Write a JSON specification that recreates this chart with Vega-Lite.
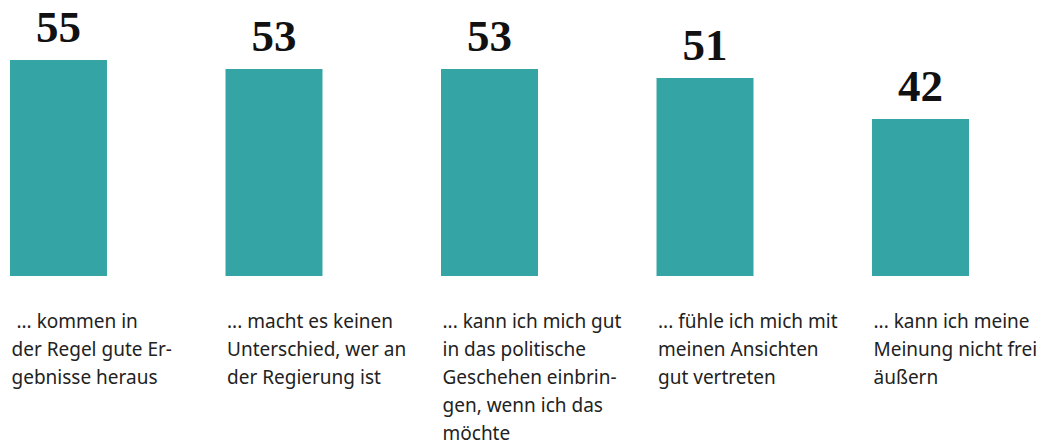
{
  "$schema": "https://vega.github.io/schema/vega-lite/v6.json",
  "width": 959,
  "height": 276,
  "autosize": {"type": "none"},
  "padding": {"left": 10, "top": 0, "right": 78, "bottom": 169},
  "background": "white",
  "config": {"view": {"stroke": null}},
  "data": {
    "values": [
      {"item": "\u200b\u00a0... kommen in|der Regel gute Er-|gebnisse heraus", "value": 55},
      {"item": "... macht es keinen|Unterschied, wer an|der Regierung ist", "value": 53},
      {"item": "... kann ich mich gut|in das politische|Geschehen einbrin-|gen, wenn ich das|möchte", "value": 53},
      {"item": "... fühle ich mich mit|meinen Ansichten|gut vertreten", "value": 51},
      {"item": "... kann ich meine|Meinung nicht frei|äußern", "value": 42}
    ]
  },
  "encoding": {
    "x": {
      "field": "item",
      "type": "nominal",
      "sort": null,
      "scale": {"paddingInner": 0.55, "paddingOuter": 0},
      "axis": {
        "title": null,
        "domain": false,
        "ticks": false,
        "labelAngle": 0,
        "labelAlign": "left",
        "labelBaseline": "top",
        "labelOffset": -47,
        "labelPadding": 36,
        "labelLimit": 400,
        "labelFont": "Noto Sans",
        "labelFontSize": 19,
        "labelLineHeight": 28,
        "labelColor": "#222222",
        "labelExpr": "split(datum.value, '|')"
      }
    },
    "y": {
      "field": "value",
      "type": "quantitative",
      "scale": {"domain": [7.4, 68.2], "zero": false, "nice": false},
      "axis": null
    }
  },
  "layer": [
    {
      "mark": {"type": "bar", "color": "#34a4a4"},
      "encoding": {"y2": {"datum": 7.4}}
    },
    {
      "mark": {
        "type": "text",
        "baseline": "alphabetic",
        "dy": -18,
        "font": "Liberation Serif",
        "fontWeight": "bold",
        "fontSize": 45,
        "color": "#111111"
      },
      "encoding": {"text": {"field": "value", "type": "quantitative"}}
    }
  ]
}
